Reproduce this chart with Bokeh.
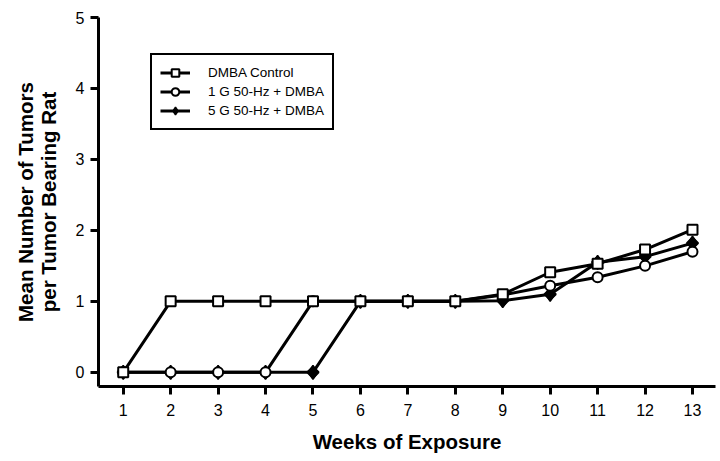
from bokeh.plotting import figure
from bokeh.models import Range1d, FixedTicker, Legend, LegendItem
from bokeh.embed import file_html
from bokeh.resources import INLINE
import math

weeks = [1, 2, 3, 4, 5, 6, 7, 8, 9, 10, 11, 12, 13]
control = [0, 1, 1, 1, 1, 1, 1, 1, 1.1, 1.41, 1.53, 1.73, 2.01]
g1 = [0, 0, 0, 0, 1, 1, 1, 1, 1.09, 1.22, 1.34, 1.5, 1.7]
g5 = [0, 0, 0, 0, 0, 1, 1, 1, 1.01, 1.1, 1.55, 1.63, 1.82]
x_ticks = weeks
y_ticks = [0, 1, 2, 3, 4, 5]
names = ["DMBA Control", "1 G 50-Hz + DMBA", "5 G 50-Hz + DMBA"]

FONT = "Liberation Sans"

p = figure(width=716, height=458, x_range=Range1d(0.479, 13.485), y_range=Range1d(-0.2, 5.0),
           output_backend="svg", toolbar_location=None,
           min_border_left=98, min_border_right=1, min_border_top=17, min_border_bottom=72)
p.outline_line_color = None
p.xgrid.visible = False
p.ygrid.visible = False
p.background_fill_color = "white"
p.border_fill_color = "white"

for ax in (p.xaxis[0], p.yaxis[0]):
    ax.axis_line_width = 3
    ax.axis_line_color = "black"
    ax.major_tick_line_width = 3
    ax.major_tick_line_color = "black"
    ax.major_tick_out = 8
    ax.major_tick_in = 0
    ax.minor_tick_line_color = None
    ax.major_label_text_font = FONT
    ax.major_label_text_font_size = "16px"
    ax.major_label_text_color = "black"
    ax.axis_label_text_font = FONT
    ax.axis_label_text_font_size = "20.5px"
    ax.axis_label_text_font_style = "bold"
    ax.axis_label_text_color = "black"

p.xaxis.ticker = FixedTicker(ticks=x_ticks)
p.yaxis.ticker = FixedTicker(ticks=y_ticks)
p.xaxis.axis_label = "Weeks of Exposure"
p.yaxis.axis_label = "Mean Number of Tumors\nper Tumor Bearing Rat"
p.yaxis.axis_label_text_line_height = 1.0
p.xaxis.major_label_standoff = 9
p.xaxis.axis_label_standoff = 11
p.yaxis.major_label_standoff = 6
p.yaxis.axis_label_standoff = 13

# draw order: diamonds, circles, squares
l5 = p.line(weeks, g5, line_width=3, line_color="black")
l1 = p.line(weeks, g1, line_width=3, line_color="black")
lc = p.line(weeks, control, line_width=3, line_color="black")
m5d = p.scatter(weeks, g5, marker="diamond", size=14,
                fill_color="black", line_color="black", line_width=1.5)
m5 = p.scatter(weeks, g5, marker="square", angle=math.pi / 4, size=8,
               fill_color="black", line_color="black", line_width=2)
m1 = p.scatter(weeks, g1, marker="circle", size=10,
               fill_color="white", line_color="black", line_width=2)
mc = p.scatter(weeks, control, marker="square", size=10,
               fill_color="white", line_color="black", line_width=2)

legend = Legend(items=[
    LegendItem(label=names[0], renderers=[lc, mc]),
    LegendItem(label=names[1], renderers=[l1, m1]),
    LegendItem(label=names[2], renderers=[l5, m5d]),
], location=(52, 256))
legend.glyph_width = 30
legend.glyph_height = 19
legend.label_height = 19
legend.label_standoff = 18
legend.padding = 8
legend.spacing = 0
legend.margin = 0
legend.label_text_font = FONT
legend.label_text_font_size = "13.5px"
legend.label_text_color = "black"
legend.border_line_color = "black"
legend.border_line_alpha = 1
legend.border_line_width = 2.5
legend.background_fill_color = "white"
legend.background_fill_alpha = 1
p.add_layout(legend, "center")

open("out.html", "w").write(file_html(p, INLINE))
